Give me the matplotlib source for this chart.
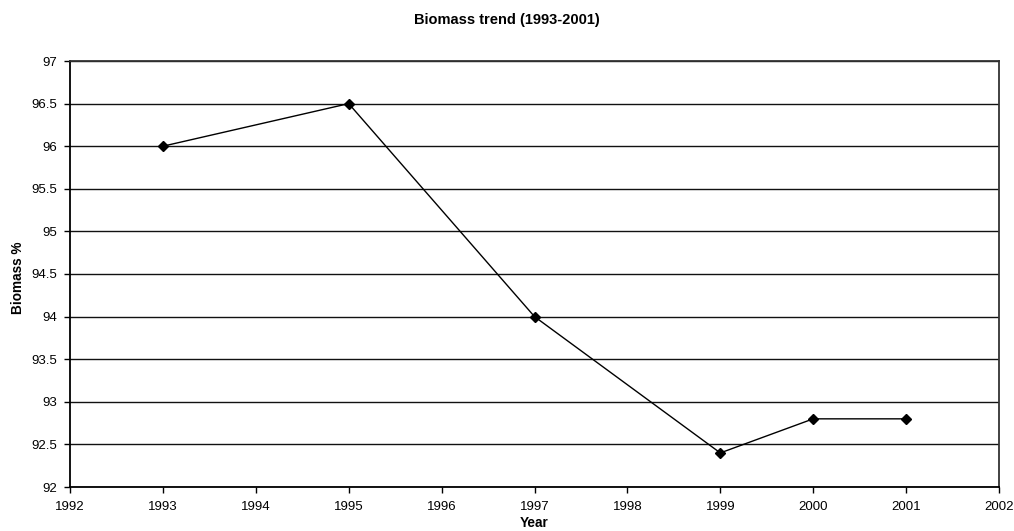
import matplotlib
matplotlib.use("Agg")
import matplotlib.pyplot as plt

years = [1993, 1995, 1997, 1999, 2000, 2001]
biomass = [96.0, 96.5, 94.0, 92.4, 92.8, 92.8]
yticks = [92, 92.5, 93, 93.5, 94, 94.5, 95, 95.5, 96, 96.5, 97]
xticks = list(range(1992, 2003))

plt.rcParams['font.family'] = ['Liberation Sans', 'DejaVu Sans']
fig = plt.figure(figsize=(10.14, 5.31), dpi=100)
ax = fig.add_axes([70/1014, 1 - 487/531, (999-70)/1014, (487-61)/531])
ax.plot(years, biomass, color='black', lw=1, marker='D', ms=5.5, mfc='black', mec='black')
ax.set_xlim(1992, 2002)
ax.set_ylim(92, 97)
ax.set_xticks(xticks)
ax.set_yticks(yticks)
ax.set_yticklabels([f"{v:g}" for v in yticks])
ax.yaxis.grid(True, color='#111111', lw=1)
ax.set_axisbelow(True)
ax.tick_params(axis='both', labelsize=9.5, direction='out', length=4, width=1, color='black')
ax.tick_params(axis='x', pad=6)
ax.tick_params(axis='y', pad=5)
for s in ['left', 'bottom']:
    ax.spines[s].set_color('black')
    ax.spines[s].set_linewidth(1.3)
for s in ['top', 'right']:
    ax.spines[s].set_color('#333333')
    ax.spines[s].set_linewidth(1.3)
fig.text(534/1014, 1 - 523/531, 'Year', ha='center', va='center', fontsize=9.8, fontweight='bold')
fig.text(18/1014, 1 - 278/531, 'Biomass %', rotation=90, ha='center', va='center', fontsize=9.8, fontweight='bold')
fig.text(0.5, 1 - 20/531, 'Biomass trend (1993-2001)', ha='center', va='center', fontsize=10.5, fontweight='bold')
fig.savefig('out.png', dpi=100)
